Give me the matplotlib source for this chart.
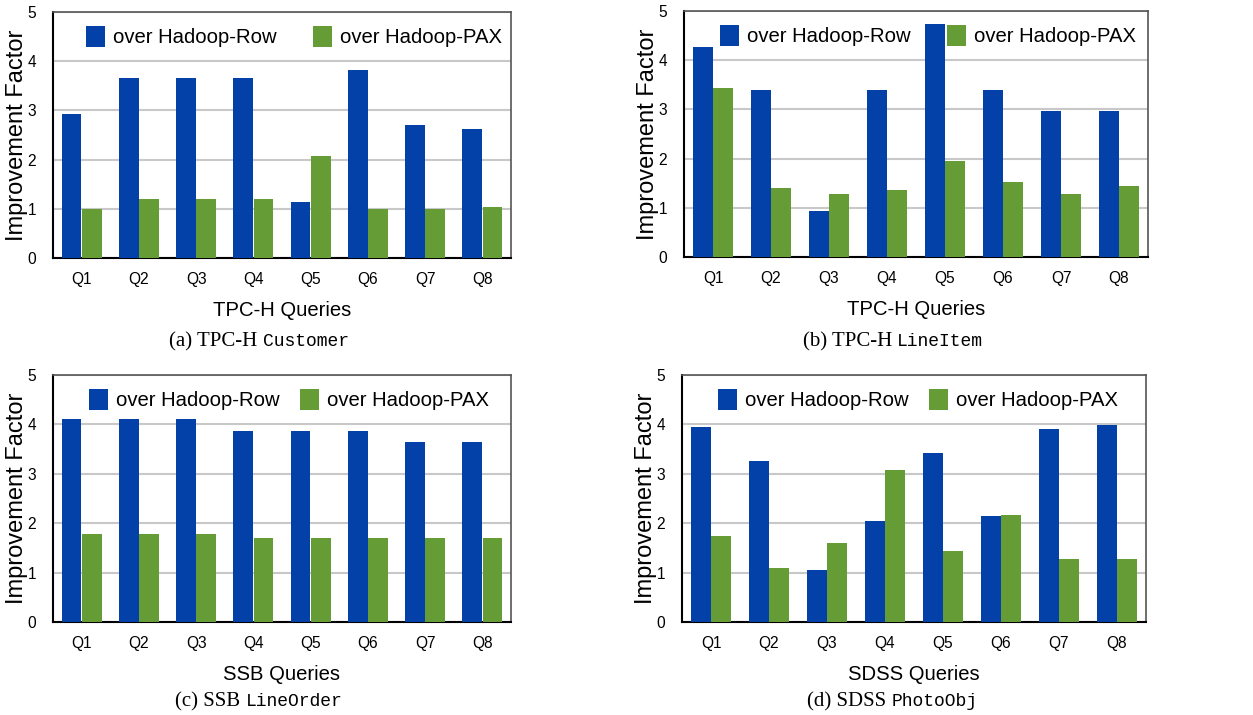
import numpy as np
import matplotlib
matplotlib.use("Agg")
import matplotlib.pyplot as plt
from matplotlib import font_manager

# 参考图横向被压缩，优先用窄体
try:
    font_manager.findfont(font_manager.FontProperties(family='Liberation Sans Narrow'),
                          fallback_to_default=False)
    narrow = 'Liberation Sans Narrow'
    k = 1.0
except Exception:
    narrow = 'Liberation Sans'
    k = 0.86

plt.rcParams['font.family'] = [narrow, 'DejaVu Sans']

# 数据
queries = ["Q1", "Q2", "Q3", "Q4", "Q5", "Q6", "Q7", "Q8"]
legend_labels = ["over Hadoop-Row", "over Hadoop-PAX"]

tpch_cust_row = [2.93, 3.66, 3.66, 3.66, 1.14, 3.82, 2.70, 2.62]
tpch_cust_pax = [1.00, 1.20, 1.20, 1.20, 2.07, 1.00, 1.00, 1.04]

tpch_line_row = [4.27, 3.39, 0.93, 3.39, 4.74, 3.39, 2.97, 2.97]
tpch_line_pax = [3.44, 1.41, 1.27, 1.37, 1.96, 1.53, 1.29, 1.45]

ssb_row = [4.11, 4.11, 4.11, 3.86, 3.86, 3.86, 3.64, 3.64]
ssb_pax = [1.78, 1.78, 1.78, 1.70, 1.70, 1.70, 1.70, 1.70]

sdss_row = [3.95, 3.26, 1.05, 2.04, 3.42, 2.14, 3.91, 3.99]
sdss_pax = [1.74, 1.09, 1.59, 3.07, 1.43, 2.16, 1.27, 1.27]

xlabels = ["TPC-H Queries", "TPC-H Queries", "SSB Queries", "SDSS Queries"]
cap_serif = ["(a) TPC-H ", "(b) TPC-H ", "(c) SSB ", "(d) SDSS "]
cap_mono = ["Customer", "LineItem", "LineOrder", "PhotoObj"]

blue = "#0341a9"
green = "#669c35"

fig = plt.figure(figsize=(12.53, 7.15), dpi=100)

# 子图位置 [left, bottom, width, height]
rects = [
    [0.0423, 0.6392, 0.3655, 0.3440],
    [0.5459, 0.6406, 0.3703, 0.3440],
    [0.0423, 0.1300, 0.3655, 0.3455],
    [0.5443, 0.1300, 0.3703, 0.3455],
]
leg_x = [0.527, 0.526, 0.515, 0.509]
leg_cs = [1.8, 1.8, 1.0, 1.0]
cap_pos = [(259, 340), (893, 340), (259, 700), (892, 700)]

data = [(tpch_cust_row, tpch_cust_pax), (tpch_line_row, tpch_line_pax),
        (ssb_row, ssb_pax), (sdss_row, sdss_pax)]

x = np.arange(len(queries))
w = 0.345

for i in range(4):
    ax = fig.add_axes(rects[i])
    row, pax = data[i]
    ax.bar(x - 0.178, row, w, color=blue, label=legend_labels[0], zorder=3)
    ax.bar(x + 0.178, pax, w, color=green, label=legend_labels[1], zorder=3)
    ax.set_xlim(-0.5, 7.5)
    ax.set_ylim(0, 5)
    ax.set_yticks([0, 1, 2, 3, 4, 5])
    ax.set_xticks(x)
    ax.set_xticklabels(queries)
    ax.tick_params(axis='both', length=0, labelsize=13 * k)
    ax.tick_params(axis='x', pad=10)
    ax.tick_params(axis='y', pad=12)
    ax.yaxis.grid(True, color="#c8c8c8", linewidth=1.5, zorder=0)
    ax.set_axisbelow(True)
    for s in ['left', 'bottom']:
        ax.spines[s].set_color('black')
        ax.spines[s].set_linewidth(1.5)
    for s in ['top', 'right']:
        ax.spines[s].set_color('#555555')
        ax.spines[s].set_linewidth(1.2)
    ax.set_xlabel(xlabels[i], fontsize=17 * k, labelpad=10)
    # y 轴标题是竖排的，没有被横向压缩
    ax.set_ylabel("Improvement Factor", fontsize=17, family='Liberation Sans')
    ax.yaxis.set_label_coords(-25 / (rects[i][2] * 1253), 0.5)
    ax.legend(loc='center', bbox_to_anchor=(leg_x[i], 0.9), ncol=2, frameon=False,
              fontsize=17 * k, handlelength=0.8 / k, handleheight=1.2, handletextpad=0.4,
              columnspacing=leg_cs[i], borderpad=0)

# 图注：衬线 + 等宽
fig.canvas.draw()
renderer = fig.canvas.get_renderer()
for i in range(4):
    cx, cy = cap_pos[i]
    yf = 1 - (cy + 6) / 715
    t1 = fig.text(0, yf, cap_serif[i], fontsize=15, family='Liberation Serif', va='baseline')
    t2 = fig.text(0, yf, cap_mono[i], fontsize=13, family='Liberation Mono', va='baseline')
    w1 = t1.get_window_extent(renderer).width
    w2 = t2.get_window_extent(renderer).width
    left = cx - (w1 + w2) / 2
    t1.set_x(left / 1253)
    t2.set_x((left + w1) / 1253)

fig.savefig("out.png", dpi=100)
